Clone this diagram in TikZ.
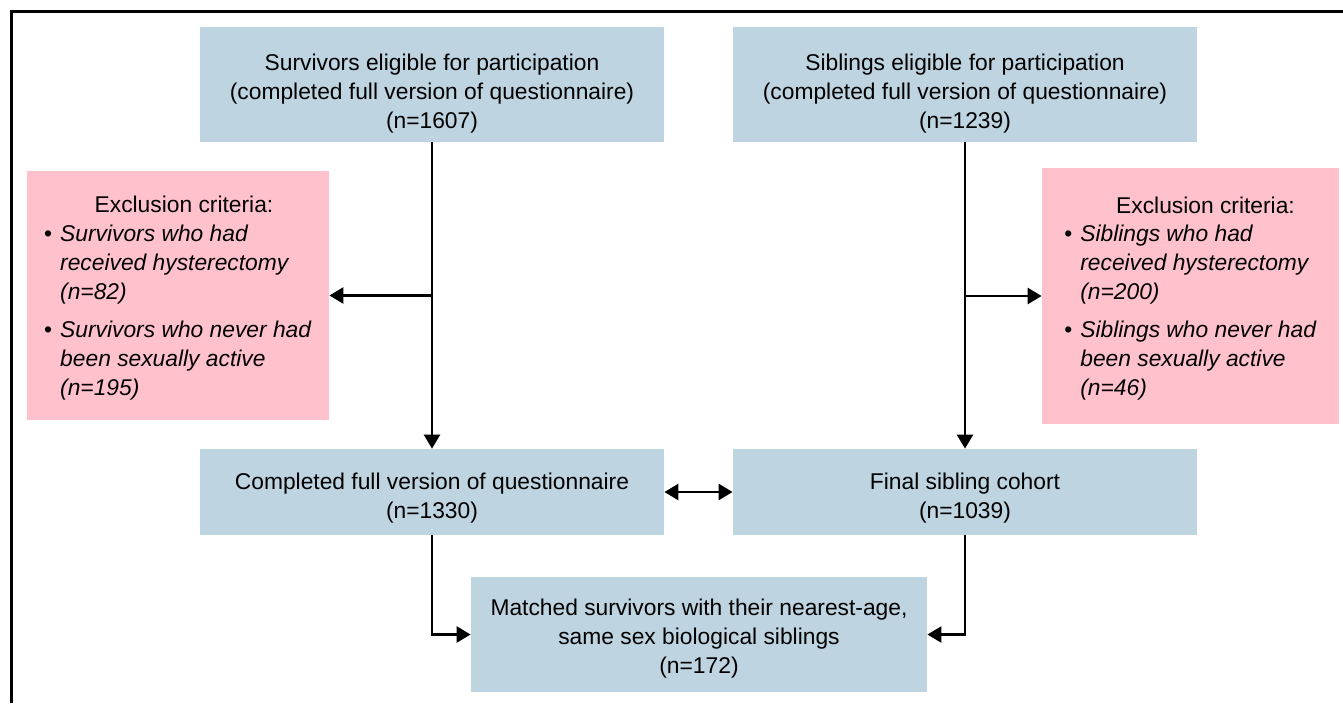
\documentclass[tikz,border=0pt]{standalone}
\usepackage{fontspec}
\setmainfont{Liberation Sans}
\usetikzlibrary{arrows.meta}
\definecolor{boxblue}{RGB}{190,212,224}
\definecolor{boxpink}{RGB}{255,194,204}
\newcommand{\topgap}[1]{\rule{0pt}{#1}}

\begin{document}
\begin{tikzpicture}[x=0.5pt, y=-0.5pt,
box/.style={fill=boxblue, align=center, inner sep=0pt,
	minimum width=232pt, minimum height=57.5pt,
	font=\fontsize{11.4}{14.5}\selectfont},
excl/.style={fill=boxpink, align=center, inner sep=0pt,
	font=\fontsize{11.4}{14.5}\selectfont},
arr/.style={-{Triangle[length=7pt,width=8pt]}, line width=1.3pt},
dblarr/.style={{Triangle[length=7pt,width=8pt]}-{Triangle[length=7pt,width=8pt]}, line width=1.3pt}]
\useasboundingbox (0,0) rectangle (1343,703);
\draw[line width=1.5pt] (11,703) -- (11,11) -- (1343,11);

\node[box] (surv) at (432,84.5) {\topgap{17pt}Survivors eligible for participation\\
	(completed full version of questionnaire)\\(n=1607)};
\node[box] (sib) at (965,84.5) {\topgap{17pt}Siblings eligible for participation\\
	(completed full version of questionnaire)\\(n=1239)};
\node[box, minimum height=43pt] (survfull) at (432,492)
	{\topgap{14pt}Completed full version of questionnaire\\(n=1330)};
\node[box, minimum height=43pt] (sibfinal) at (965,492)
	{\topgap{14pt}Final sibling cohort\\(n=1039)};
\node[box, minimum width=228pt] (matched) at (699,634.5)
	{\topgap{12pt}Matched survivors with their nearest-age,\\same sex biological siblings\\(n=172)};

\node[excl, minimum width=151pt, minimum height=124.5pt] (survexcl) at (178,295.5) {%
	\topgap{13pt}\hspace*{6pt}Exclusion criteria:\\[3pt]
	\begin{tabular}{@{}l@{\hspace{4pt}}l@{}}
	\textbullet & \textit{Survivors who had}\\
	& \textit{received hysterectomy}\\
	& \textit{(n=82)}\\[4.5pt]
	\textbullet & \textit{Survivors who never had}\\
	& \textit{been sexually active}\\
	& \textit{(n=195)}
	\end{tabular}};
\node[excl, minimum width=148.5pt, minimum height=128pt] (sibexcl) at (1190.5,296) {%
	\topgap{13pt}\hspace*{15pt}Exclusion criteria:\\[3pt]
	\begin{tabular}{@{}l@{\hspace{4pt}}l@{}}
	\textbullet & \textit{Siblings who had}\\
	& \textit{received hysterectomy}\\
	& \textit{(n=200)}\\[4.5pt]
	\textbullet & \textit{Siblings who never had}\\
	& \textit{been sexually active}\\
	& \textit{(n=46)}
	\end{tabular}};

\draw[arr] (surv.south) -- (survfull.north);
\draw[arr] (surv.south |- survexcl.east) -- (survexcl.east);
\draw[arr] (sib.south) -- (sibfinal.north);
\draw[arr] (sib.south |- sibexcl.west) -- (sibexcl.west);
\draw[dblarr] (survfull.east) -- (sibfinal.west);
\draw[arr] (survfull.south) |- (matched.west);
\draw[arr] (sibfinal.south) |- (matched.east);
\end{tikzpicture}
\end{document}
